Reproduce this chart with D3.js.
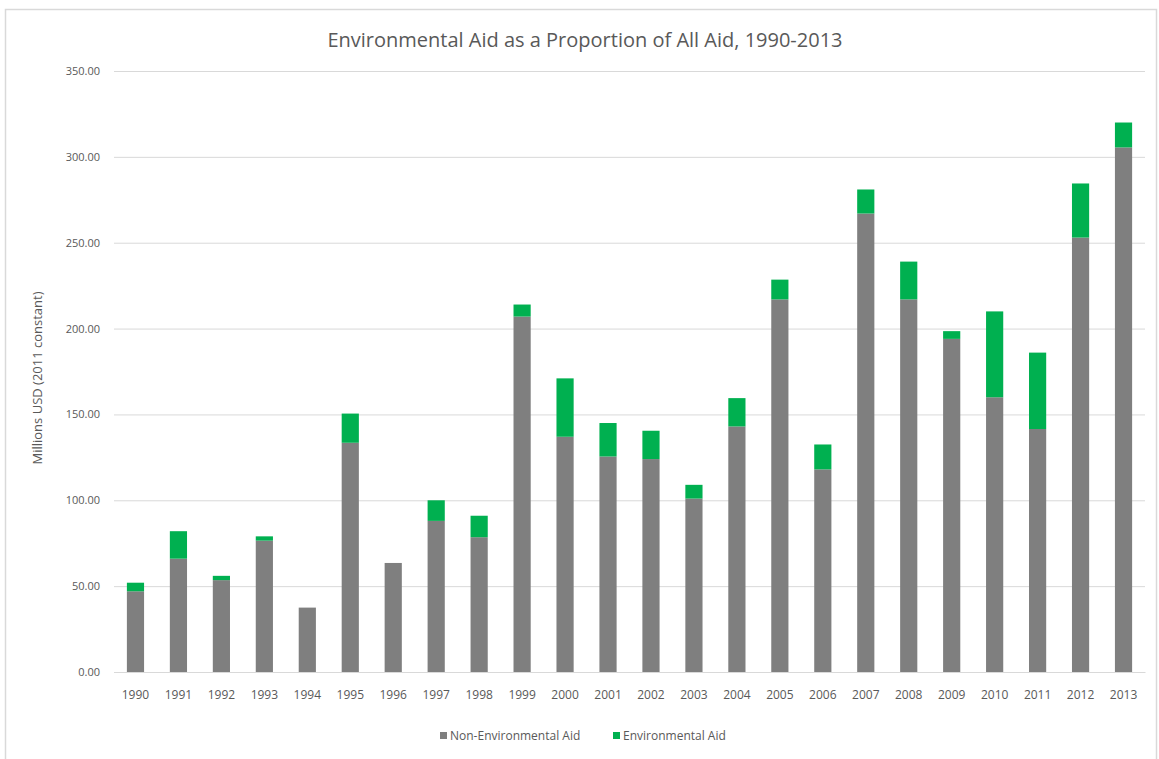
<!DOCTYPE html>
<html>
<head>
<meta charset="utf-8">
<script src="https://cdn.jsdelivr.net/npm/d3@7"></script>
<style>
  html, body { margin: 0; padding: 0; background: #fff; }
  svg { display: block; }
  text { font-family: "Open Sans", "DejaVu Sans", sans-serif; }
</style>
</head>
<body>
<svg id="chart" width="1159" height="759"></svg>
<script>
const years = ["1990","1991","1992","1993","1994","1995","1996","1997","1998","1999","2000","2001","2002","2003","2004","2005","2006","2007","2008","2009","2010","2011","2012","2013"];
const nonEnvAid = [47, 66, 53.5, 76.5, 37.5, 133.5, 63.5, 88, 78.5, 207, 137, 125.5, 124, 101, 143, 217, 118, 267, 217, 194, 160, 141.5, 253, 305.5];
const envAid    = [5, 16, 2.5, 2.5, 0, 17, 0, 12, 12.5, 7, 34, 19.5, 16.5, 8, 16.5, 11.5, 14.5, 14, 22, 4.5, 50, 44.5, 31.5, 14.5];
const seriesNames = ["Non-Environmental Aid", "Environmental Aid"];
const seriesColors = ["#7f7f7f", "#00b050"];
const yTicks = [0, 50, 100, 150, 200, 250, 300, 350];
const titleText = "Environmental Aid as a Proportion of All Aid, 1990-2013";
const yTitle = "Millions USD (2011 constant)";

const svg = d3.select("#chart");
const W = 1159, H = 759;

// outer border
svg.append("rect").attr("x", 5.5).attr("y", 9.5).attr("width", W - 8).attr("height", H - 8)
  .attr("fill", "#fff").attr("stroke", "#d9d9d9").attr("stroke-width", 1.5);

const margin = { left: 114, right: 1145, top: 71, bottom: 672 };

const x = d3.scaleBand().domain(years).range([margin.left, margin.right]).paddingInner(0.6).paddingOuter(0.3);
const y = d3.scaleLinear().domain([0, 350]).range([margin.bottom, margin.top]);

// gridlines
const yAxis = d3.axisLeft(y).tickValues(yTicks).tickFormat(d3.format(".2f"))
  .tickSize(-(margin.right - margin.left)).tickPadding(14);
const gy = svg.append("g").attr("transform", `translate(${margin.left},0)`).call(yAxis);
gy.select(".domain").remove();
gy.selectAll(".tick line").attr("stroke", "#d9d9d9").attr("stroke-width", 1);
gy.selectAll(".tick text").attr("fill", "#595959").attr("font-size", 11);

// stacked data
const data = years.map((yr, i) => ({ year: yr, nonEnv: nonEnvAid[i], env: envAid[i] }));
const stack = d3.stack().keys(["nonEnv", "env"]);
const layers = stack(data);

svg.append("g").selectAll("g").data(layers).join("g")
  .attr("fill", (d, i) => seriesColors[i])
  .selectAll("rect").data(d => d).join("rect")
  .attr("x", d => x(d.data.year))
  .attr("width", x.bandwidth())
  .attr("y", d => y(d[1]))
  .attr("height", d => Math.max(0, y(d[0]) - y(d[1])));

// x axis
const xAxis = d3.axisBottom(x).tickSize(0).tickPadding(18);
const gx = svg.append("g").attr("transform", `translate(0,${margin.bottom})`).call(xAxis);
gx.select(".domain").attr("stroke", "#d9d9d9");
gx.selectAll(".tick text").attr("fill", "#595959").attr("font-size", 12);

// title
svg.append("text").attr("x", 585).attr("y", 47).attr("text-anchor", "middle")
  .attr("font-size", 20).attr("fill", "#595959").text(titleText);

// y title
svg.append("text").attr("transform", "translate(42,378) rotate(-90)")
  .attr("text-anchor", "middle").attr("font-size", 13).attr("fill", "#595959").text(yTitle);

// legend
const legendX = [440, 613];
const lg = svg.append("g");
seriesNames.forEach((name, i) => {
  lg.append("rect").attr("x", legendX[i]).attr("y", 732).attr("width", 7).attr("height", 7).attr("fill", seriesColors[i]);
  lg.append("text").attr("x", legendX[i] + 10).attr("y", 740).attr("font-size", 12).attr("fill", "#595959").text(name);
});
</script>
</body>
</html>
